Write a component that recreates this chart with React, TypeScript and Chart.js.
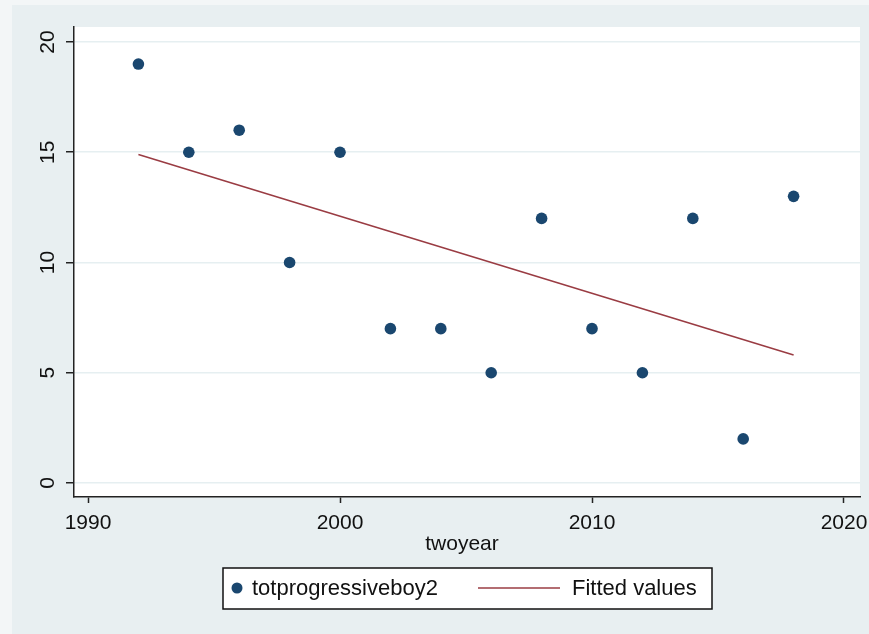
import React, { useEffect, useRef } from "react";
import { Chart, registerables } from "chart.js";

Chart.register(...registerables);

const years = [1992, 1994, 1996, 1998, 2000, 2002, 2004, 2006, 2008, 2010, 2012, 2014, 2016, 2018];
const values = [19, 15, 16, 10, 15, 7, 7, 5, 12, 7, 5, 12, 2, 13];
const fitYears = [1992, 2018];
const fitValues = [14.9, 5.8];
const xTicks = [1990, 2000, 2010, 2020];
const yTicks = [0, 5, 10, 15, 20];
const xTitle = "twoyear";
const seriesLabel = "totprogressiveboy2";
const fitLabel = "Fitted values";

const FONT = '"Liberation Sans", Arial, sans-serif';
const NAVY = "#1a476f";
const MAROON = "#9a3c43";
const GRID = "#e6eff1";
const AXIS = "#222222";

export default function App() {
  const ref = useRef<HTMLCanvasElement | null>(null);

  useEffect(() => {
    const canvas = ref.current;
    if (!canvas) return;

    const decor = {
      id: "decor",
      beforeDraw(chart: any) {
        const ctx = chart.ctx;
        const { left, top, right, bottom } = chart.chartArea;
        ctx.save();
        ctx.fillStyle = "#f3f6f7";
        ctx.fillRect(0, 0, chart.width, chart.height);
        ctx.fillStyle = "#e8eff1";
        ctx.fillRect(12, 5, chart.width - 12, chart.height - 5);
        ctx.fillStyle = "#ffffff";
        ctx.fillRect(left, top, right - left, bottom - top);
        ctx.restore();
      },
      afterDraw(chart: any) {
        const ctx = chart.ctx;
        const yScale = chart.scales.y;
        ctx.save();
        ctx.fillStyle = "#111111";
        ctx.font = `21px ${FONT}`;
        // rotated y tick labels
        yTicks.forEach((v) => {
          const py = yScale.getPixelForValue(v);
          ctx.save();
          ctx.translate(48.5, py);
          ctx.rotate(-Math.PI / 2);
          ctx.textAlign = "center";
          ctx.textBaseline = "middle";
          ctx.fillText(String(v), 0, 0);
          ctx.restore();
        });
        // x title
        ctx.textAlign = "center";
        ctx.textBaseline = "middle";
        ctx.fillText(xTitle, 462, 544);
        // legend box
        ctx.fillStyle = "#ffffff";
        ctx.fillRect(223, 568, 489, 41);
        ctx.strokeStyle = "#111111";
        ctx.lineWidth = 1.5;
        ctx.strokeRect(223, 568, 489, 41);
        ctx.fillStyle = NAVY;
        ctx.beginPath();
        ctx.arc(237, 588, 5.5, 0, Math.PI * 2);
        ctx.fill();
        ctx.strokeStyle = MAROON;
        ctx.lineWidth = 1.6;
        ctx.beginPath();
        ctx.moveTo(478, 588);
        ctx.lineTo(560, 588);
        ctx.stroke();
        ctx.fillStyle = "#111111";
        ctx.textAlign = "left";
        ctx.font = `22px ${FONT}`;
        ctx.fillText(seriesLabel, 252, 589);
        ctx.fillText(fitLabel, 572, 589);
        ctx.restore();
      },
    };

    const chart = new Chart(canvas, {
      type: "scatter",
      data: {
        datasets: [
          {
            label: seriesLabel,
            data: years.map((x, i) => ({ x, y: values[i] })),
            backgroundColor: NAVY,
            borderColor: NAVY,
            borderWidth: 0,
            pointRadius: 5.8,
          },
          {
            label: fitLabel,
            data: fitYears.map((x, i) => ({ x, y: fitValues[i] })),
            showLine: true,
            borderColor: MAROON,
            backgroundColor: MAROON,
            borderWidth: 1.6,
            pointRadius: 0,
          } as any,
        ],
      },
      options: {
        responsive: false,
        animation: false,
        layout: { padding: { top: 27, right: 9, left: 0, bottom: 0 } },
        plugins: { legend: { display: false }, tooltip: { enabled: false } },
        scales: {
          x: {
            type: "linear",
            min: 1989.444,
            max: 2020.635,
            afterBuildTicks: (s: any) => {
              s.ticks = xTicks.map((v) => ({ value: v }));
            },
            afterFit: (s: any) => {
              s.height = 137;
              s.paddingLeft = 0;
              s.paddingRight = 0;
            },
            grid: { drawOnChartArea: false, tickLength: 6, tickColor: AXIS, tickWidth: 1.5 },
            border: { color: AXIS, width: 1.5 },
            ticks: {
              font: { family: FONT, size: 21 },
              color: "#111111",
              padding: 8,
              maxRotation: 0,
              autoSkip: false,
              callback: (v: any) => String(v),
            },
          },
          y: {
            type: "linear",
            min: -0.635,
            max: 20.68,
            afterBuildTicks: (s: any) => {
              s.ticks = yTicks.map((v) => ({ value: v }));
            },
            afterFit: (s: any) => {
              s.width = 74;
              s.paddingTop = 0;
              s.paddingBottom = 0;
            },
            grid: { color: GRID, lineWidth: 1.5, tickLength: 8, tickColor: AXIS, tickWidth: 1.5 },
            border: { color: AXIS, width: 1.5 },
            ticks: { display: false },
          },
        },
      } as any,
      plugins: [decor],
    });

    return () => chart.destroy();
  }, []);

  return (
    <div style={{ position: "absolute", left: 0, top: 0, width: 869, height: 634 }}>
      <canvas ref={ref} width={869} height={634} style={{ display: "block" }} />
    </div>
  );
}
